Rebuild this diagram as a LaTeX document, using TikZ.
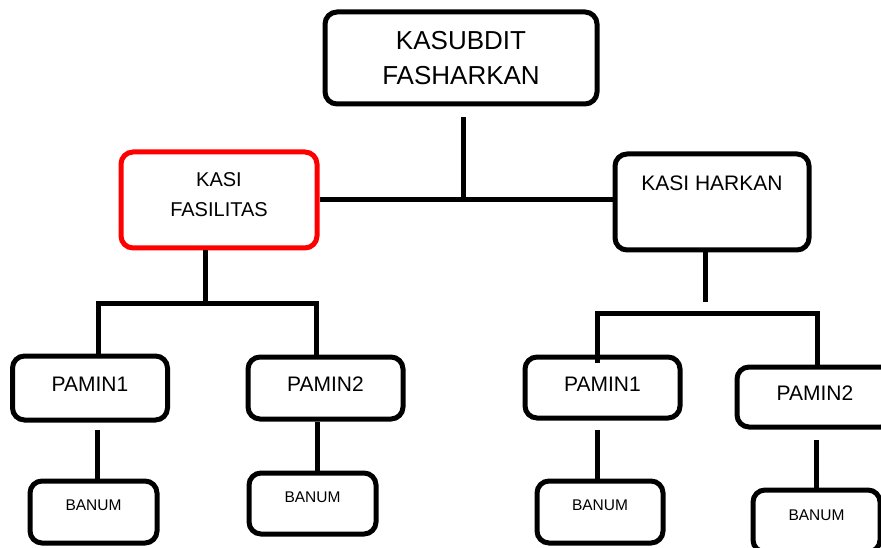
\documentclass[tikz,border=0pt]{standalone}
\usepackage{fontspec}
\setmainfont{Liberation Sans}

\begin{document}
\begin{tikzpicture}[x=1pt,y=-1pt,
  unit/.style={draw, line width=5pt, rounded corners=12pt, align=center, inner sep=0pt},
  link/.style={line width=5pt},
  paminbox/.style={unit, minimum width=155pt, minimum height=62pt, text depth=7pt, font=\fontsize{21}{25}\selectfont},
  banumbox/.style={unit, minimum width=127pt, minimum height=62pt, text depth=14pt, font=\fontsize{15.5}{18}\selectfont}]
\useasboundingbox (0,0) rectangle (881,548);
\clip (0,0) rectangle (881,548);

\node[unit, minimum width=272pt, minimum height=92pt, font=\fontsize{26}{35}\selectfont] (kasubdit) at (461,58) {KASUBDIT\\FASHARKAN};
\node[unit, draw=red, minimum width=196pt, minimum height=96pt, text depth=10pt, font=\fontsize{20}{30}\selectfont] (fasilitas) at (219,200) {KASI\\FASILITAS};
\node[unit, minimum width=194pt, minimum height=96pt, text depth=37pt, font=\fontsize{21}{25}\selectfont] (harkan) at (712,202) {KASI HARKAN};

\node[paminbox, minimum height=64pt] (paminla) at (90,388) {PAMIN1};
\node[paminbox] (paminlb) at (325.5,388) {PAMIN2};
\node[paminbox, minimum height=61pt] (paminra) at (602.5,387.5) {PAMIN1};
\node[paminbox, minimum width=156pt, minimum height=60pt] (paminrb) at (815,397) {PAMIN2};

\node[banumbox] (banumla) at (93.5,512) {BANUM};
\node[banumbox, minimum height=61pt, text depth=13pt] (banumlb) at (312.5,503.5) {BANUM};
\node[banumbox, minimum width=126pt] (banumra) at (600,512) {BANUM};
\node[banumbox, text depth=12pt] (banumrb) at (816.5,521) {BANUM};

\coordinate (hub) at (463,200);
\draw[link, shorten <=11pt] (kasubdit.south -| hub) -- (hub);
\draw[link] (fasilitas.east) -- (fasilitas.east -| harkan.west);

\coordinate (fasjoint) at (205,303);
\coordinate (fasleft) at (98,303);
\coordinate (fasright) at (316,303);
\draw[link] (fasilitas.south -| fasjoint) -- (fasjoint);
\draw[link] (paminla.north -| fasleft) -- (fasleft) -- (fasright) -- (paminlb.north -| fasright);

\coordinate (harjoint) at (705,302);
\coordinate (harleft) at (597,313);
\coordinate (harright) at (817,313);
\draw[link] (harkan.south -| harjoint) -- (harjoint);
\draw[link, shorten <=-8pt] (paminra.north -| harleft) -- (harleft) -- (harright) -- (paminrb.north -| harright);

\coordinate (dropla) at ([xshift=4pt]banumla.north);
\coordinate (droplb) at ([xshift=4.5pt]banumlb.north);
\coordinate (dropra) at ([xshift=-3pt]banumra.north);
\draw[link, shorten <=7pt] (paminla.south -| dropla) -- (dropla);
\draw[link] (paminlb.south -| droplb) -- (droplb);
\draw[link, shorten <=9pt] (paminra.south -| dropra) -- (dropra);
\draw[link, shorten <=10pt] (paminrb.south -| banumrb.north) -- (banumrb.north);
\end{tikzpicture}
\end{document}
